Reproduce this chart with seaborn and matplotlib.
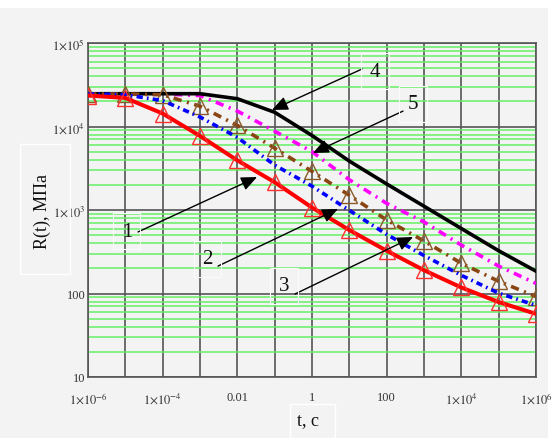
import numpy as np
import pandas as pd
import matplotlib
matplotlib.use('Agg')
import matplotlib.pyplot as plt
from matplotlib.patches import Rectangle
from matplotlib.ticker import LogLocator, NullFormatter
import seaborn as sns

# time, s (one point per decade)
t_exp = [-6, -5, -4, -3, -2, -1, 0, 1, 2, 3, 4, 5, 6]
t_vals = [10.0 ** e for e in t_exp]

# R(t), MPa
r_curve1 = [23500, 22000, 14300, 7700, 3930, 2150, 1070, 575, 325, 190, 118, 79, 57]        # red
r_curve2 = [24500, 24000, 20400, 13000, 7400, 3450, 1930, 990, 510, 285, 165, 101, 72]      # blue
r_curve3 = [24500, 24500, 24000, 17500, 10300, 5500, 2900, 1500, 760, 425, 230, 140, 92]    # brown
r_curve4 = [24700, 24700, 24700, 24700, 21500, 14800, 7800, 3850, 2050, 1110, 600, 325, 185]  # black
r_curve5 = [24500, 24500, 24500, 23500, 15300, 8800, 5000, 2300, 1200, 720, 380, 213, 132]  # magenta

x_ticklabels = [r'$1{\times}10^{-6}$', '', r'$1{\times}10^{-4}$', '', '0.01', '', '1', '',
                '100', '', r'$1{\times}10^{4}$', '', r'$1{\times}10^{6}$']
y_ticks = [10, 100, 1000, 10000, 100000]
y_ticklabels = ['10', '100', r'$1{\times}10^{3}$', r'$1{\times}10^{4}$', r'$1{\times}10^{5}$']

sns.set_theme(style='white')
plt.rcParams['font.family'] = ['Liberation Serif', 'DejaVu Serif']
plt.rcParams['mathtext.fontset'] = 'stix'
plt.rcParams['lines.scale_dashes'] = False

bg = '#f3f3f3'
fig = plt.figure(figsize=(5.52, 4.39), dpi=100, facecolor='white')
fig.patches.append(Rectangle((0, 0), 548 / 552, 1 - 9 / 439, transform=fig.transFigure,
                             facecolor=bg, edgecolor='none', zorder=-10))
ax = fig.add_axes([88 / 552, 1 - 378 / 439, 448 / 552, 334 / 439])
ax.set_facecolor(bg)

# curves
sns.lineplot(x=t_vals, y=r_curve5, ax=ax, color='#ff00ff', lw=2.6,
             linestyle=(0, (6, 4, 1.5, 4)), zorder=3)
sns.lineplot(x=t_vals, y=r_curve4, ax=ax, color='black', lw=2.6, zorder=3)
sns.lineplot(x=t_vals, y=r_curve3, ax=ax, color='#8b4513', lw=2.6,
             linestyle=(0, (6, 4, 1.5, 4)), marker='^', ms=11, mfc='none',
             mec='#8b5a2b', mew=1.0, zorder=3)
sns.lineplot(x=t_vals, y=r_curve2, ax=ax, color='#0000ff', lw=2.6,
             linestyle=(0, (4.5, 3, 1.2, 3)), zorder=3)
sns.lineplot(x=t_vals, y=r_curve1, ax=ax, color='#ff0000', lw=2.9,
             marker='^', ms=11, mfc='none', mec='#ff3030', mew=1.0, zorder=4)

ax.set_xscale('log')
ax.set_yscale('log')
ax.set_xlim(1e-6, 1e6)
ax.set_ylim(10, 1e5)

ax.set_xticks(t_vals)
ax.set_xticklabels(x_ticklabels)
ax.set_yticks(y_ticks)
ax.set_yticklabels(y_ticklabels)
ax.xaxis.set_minor_locator(LogLocator(base=10, subs=[], numticks=20))
ax.yaxis.set_minor_locator(LogLocator(base=10, subs=np.arange(2, 10), numticks=20))
ax.yaxis.set_minor_formatter(NullFormatter())
ax.tick_params(axis='both', which='both', length=0, labelsize=9, colors='#333333')
ax.tick_params(axis='x', pad=10)
ax.tick_params(axis='y', pad=2)

ax.set_axisbelow(True)
ax.grid(which='minor', axis='y', color='#66ee66', lw=1.1)
ax.grid(which='major', axis='both', color='#555555', lw=1.2)
for s in ax.spines.values():
    s.set_color('#555555')
    s.set_linewidth(1.2)
ax.set_xlabel('')
ax.set_ylabel('')

# curve numbers with arrows
labels = [
    ('1', (1.1e-5, 560), (2.19e-5, 546), (0.0337, 2480)),
    ('2', (0.00155, 259), (0.00304, 213), (4.97, 1030)),
    ('3', (0.178, 123), (0.351, 98.6), (508, 475)),
    ('4', (48.8, 46200), (21.9, 48800), (0.0849, 15800)),
    ('5', (508, 18600), (274, 15300), (1.06, 4820)),
]
for txt, pos, tail, head in labels:
    ax.annotate('', xy=head, xytext=tail,
                arrowprops=dict(arrowstyle='-|>,head_length=0.8,head_width=0.35',
                                color='black', lw=1.0, shrinkA=0, shrinkB=0), zorder=5)
    ax.text(pos[0], pos[1], txt, fontsize=15, ha='center', va='center', color='#111111',
            bbox=dict(boxstyle='square,pad=0.4', fc='none', ec='#fbfbfb', lw=0.8), zorder=5)

# axis titles in white-framed boxes
fig.patches.append(Rectangle((20 / 552, 1 - 275 / 439), 50 / 552, 130 / 439,
                             transform=fig.transFigure, fc='none', ec='white', lw=1))
fig.text(42 / 552, 1 - 212 / 439, 'R(t), МПа', rotation=90, ha='center', va='center',
         fontsize=13, color='#111111')
fig.patches.append(Rectangle((290 / 552, 1 - 439 / 439), 45 / 552, 34 / 439,
                             transform=fig.transFigure, fc='none', ec='white', lw=1))
fig.text(308 / 552, 1 - 421 / 439, 't, c', ha='center', va='center',
         fontsize=13, color='#111111')

fig.savefig('out.png', dpi=100, facecolor=fig.get_facecolor())
